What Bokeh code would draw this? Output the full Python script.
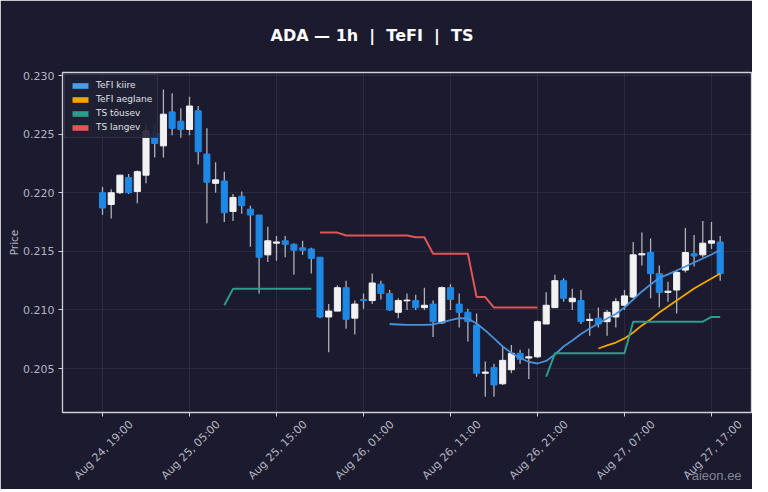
import numpy as np
import pandas as pd
from math import pi
from bokeh.plotting import figure
from bokeh.models import (ColumnDataSource, Range1d, FixedTicker, CustomJSTickFormatter,
                          NumeralTickFormatter, Legend, LegendItem, DatetimeAxis)
from bokeh.embed import file_html
from bokeh.resources import INLINE

nan = float("nan")

# hourly candles, Aug 24 19:00 -> Aug 27 18:00
times = pd.date_range("2023-08-24 19:00", periods=72, freq="h")

opens = [0.2200, 0.2190, 0.2200, 0.2213, 0.2201, 0.2215, 0.2251, 0.2240, 0.2269, 0.2261,
         0.2254, 0.2270, 0.2233, 0.2208, 0.2210, 0.2184, 0.2197, 0.2186, 0.2181, 0.2147,
         0.2157, 0.2159, 0.2156, 0.2153, 0.2152, 0.2145, 0.2094, 0.2099, 0.2119, 0.2093,
         0.2109, 0.2108, 0.2122, 0.2114, 0.2098, 0.21078, 0.2108, 0.2102, 0.2105, 0.2089,
         0.2119, 0.2105, 0.2098, 0.2087, 0.2046, 0.2051, 0.2037, 0.2049, 0.2063, 0.2059,
         0.2060, 0.2088, 0.2102, 0.2125, 0.2107, 0.2108, 0.2091, 0.2093, 0.2090, 0.2094,
         0.2104, 0.2111, 0.2147, 0.2149, 0.2131, 0.2115, 0.2117, 0.2134, 0.2148, 0.2147,
         0.2157, 0.2158]
highs = [0.2205, 0.2203, 0.2215, 0.2216, 0.2219, 0.2258, 0.2258, 0.2288, 0.2285, 0.2272,
         0.2282, 0.2274, 0.2255, 0.2226, 0.2218, 0.2199, 0.2201, 0.2189, 0.2181, 0.2171,
         0.2163, 0.2163, 0.2157, 0.2159, 0.2153, 0.2145, 0.2105, 0.2121, 0.2125, 0.2108,
         0.2114, 0.2131, 0.2125, 0.2117, 0.2110, 0.2114, 0.2113, 0.2119, 0.2108, 0.2120,
         0.2122, 0.2114, 0.2101, 0.2097, 0.2056, 0.2054, 0.2069, 0.2070, 0.2066, 0.2067,
         0.2091, 0.2115, 0.2130, 0.2127, 0.2118, 0.2117, 0.2097, 0.2102, 0.2100, 0.2110,
         0.2117, 0.2158, 0.2166, 0.2161, 0.2138, 0.2124, 0.2134, 0.2170, 0.2164, 0.2176,
         0.2175, 0.2163]
lows = [0.2181, 0.2178, 0.2199, 0.2199, 0.2191, 0.2208, 0.2230, 0.2230, 0.2249, 0.2247,
        0.2249, 0.2224, 0.2174, 0.2200, 0.2175, 0.2176, 0.2182, 0.2154, 0.2114, 0.2141,
        0.2142, 0.2145, 0.2130, 0.2147, 0.2131, 0.2093, 0.2064, 0.2099, 0.2084, 0.2079,
        0.2101, 0.2105, 0.2109, 0.2099, 0.2093, 0.2100, 0.2100, 0.2100, 0.2077, 0.2088,
        0.2100, 0.2085, 0.2073, 0.2043, 0.2026, 0.2026, 0.2036, 0.2046, 0.2054, 0.2041,
        0.2059, 0.2088, 0.2102, 0.2107, 0.2100, 0.2088, 0.2078, 0.2085, 0.2078, 0.2085,
        0.2100, 0.2110, 0.2138, 0.2110, 0.2102, 0.2107, 0.2097, 0.2132, 0.2137, 0.2145,
        0.2152, 0.2125]
closes = [0.2187, 0.2200, 0.2215, 0.2200, 0.2218, 0.2253, 0.2242, 0.2267, 0.2255, 0.2254,
          0.2274, 0.2235, 0.2209, 0.2211, 0.2183, 0.2196, 0.2189, 0.2181, 0.2145, 0.2159,
          0.2158, 0.2156, 0.2151, 0.2151, 0.2144, 0.2094, 0.2099, 0.2119, 0.2092, 0.2105,
          0.2108, 0.2123, 0.2114, 0.2100, 0.2108, 0.21084, 0.2102, 0.2104, 0.2090, 0.2119,
          0.2109, 0.2098, 0.2090, 0.2046, 0.2047, 0.2036, 0.2057, 0.2063, 0.2058, 0.2060,
          0.2090, 0.2104, 0.2125, 0.2110, 0.2110, 0.2090, 0.2092, 0.2088, 0.2098, 0.2107,
          0.2112, 0.2147, 0.2148, 0.2131, 0.2115, 0.2116, 0.2132, 0.2149, 0.2146, 0.2157,
          0.2159, 0.2131]

# TeFI kiire (from candle 33), TeFI aeglane (from candle 57)
tefi_fast = [nan] * 33 + [
    0.20880, 0.20876, 0.20872, 0.20872, 0.20872, 0.20876, 0.20893, 0.20914, 0.20931, 0.20927,
    0.20885, 0.20825, 0.20757, 0.20688, 0.20633, 0.20590, 0.20556, 0.20543, 0.20565, 0.20620,
    0.20688, 0.20740, 0.20795, 0.20842, 0.20885, 0.20927, 0.20966, 0.21021, 0.21089, 0.21158,
    0.21217, 0.21273, 0.21303, 0.21337, 0.21371, 0.21405, 0.21439, 0.21473, 0.21511]
tefi_slow = [nan] * 57 + [
    0.20671, 0.20697, 0.20722, 0.20757, 0.20808, 0.20868, 0.20919, 0.20978, 0.21030, 0.21081,
    0.21132, 0.21183, 0.21226, 0.21268, 0.21311]

# TS support (rising) and resistance (falling)
ts_up = ([nan] * 14 + [0.2104] + [0.2118] * 10 + [nan] * 26 + [0.2043] + [0.2063] * 9
         + [0.2090] * 9 + [0.2094] * 2)
ts_down = ([nan] * 25 + [0.2166] * 3 + [0.21635] * 8 + [0.2162] * 2 + [0.2148] * 5
           + [0.2111] * 2 + [0.2102] * 6 + [nan] * 21)

tick_times = times[::10]
tick_labels = ["Aug 24, 19:00", "Aug 25, 05:00", "Aug 25, 15:00", "Aug 26, 01:00",
               "Aug 26, 11:00", "Aug 26, 21:00", "Aug 27, 07:00", "Aug 27, 17:00"]
y_ticks = [0.205, 0.210, 0.215, 0.220, 0.225, 0.230]

BG = "#1b1a2e"
UP = "#f2f2f2"
DOWN = "#1e88e5"
TXT = "#b4b4c2"
FONT = "DejaVu Sans"

o = np.array(opens)
c = np.array(closes)
src = ColumnDataSource(dict(
    time=times, high=highs, low=lows,
    top=np.maximum(o, c), bottom=np.minimum(o, c),
    color=[UP if cc >= oo else DOWN for oo, cc in zip(o, c)],
))
lines = ColumnDataSource(dict(time=times, fast=tefi_fast, slow=tefi_slow, up=ts_up, down=ts_down))

hour = pd.Timedelta(hours=1)
y_lo, y_hi = 0.20125, 0.23026
p = figure(frame_width=689, frame_height=340, x_axis_type="datetime",
           x_range=Range1d(times[0] - 4.6 * hour, times[0] + 74.6 * hour),
           y_range=Range1d(y_lo, y_hi),
           output_backend="svg", toolbar_location=None,
           min_border_left=62, min_border_right=1, min_border_top=72, min_border_bottom=76,
           background_fill_color=BG, border_fill_color=BG,
           outline_line_color="#d0d0da", outline_line_width=1.3)

p.title.text = "ADA\u00a0—\u00a01h\u00a0\u00a0|\u00a0\u00a0TeFI\u00a0\u00a0|\u00a0\u00a0TS"
p.title.align = "left"
p.title.offset = 208
p.title.vertical_align = "top"
p.title.standoff = 51
p.title.text_color = "#ffffff"
p.title.text_font = FONT
p.title.text_font_size = "16px"
p.title.text_font_style = "bold"

p.segment(x0="time", y0="high", x1="time", y1="low", source=src, line_color="#b0b0b8", line_width=1.3)
p.vbar(x="time", width=0.7 * 3600 * 1000, top="top", bottom="bottom", source=src,
       fill_color="color", line_color="color")

p.line("time", "fast", source=lines, line_color="#4a90d9", line_width=1.8)
p.line("time", "slow", source=lines, line_color="#f0a500", line_width=1.8)
p.line("time", "up", source=lines, line_color="#2a9d8f", line_width=2)
p.line("time", "down", source=lines, line_color="#e05555", line_width=2)

# legend swatches as filled patches (zero-area quads on the line data)
sw = []
for col, key in [("#4a9de8", "fast"), ("#f0a500", "slow"), ("#2a9d8f", "up"), ("#e05555", "down")]:
    sw.append(p.quad(left="time", right="time", top=key, bottom=key, source=lines,
                     fill_color=col, line_color=None))
legend = Legend(items=[LegendItem(label="TeFI kiire", renderers=[sw[0]]),
                       LegendItem(label="TeFI aeglane", renderers=[sw[1]]),
                       LegendItem(label="TS tõusev", renderers=[sw[2]]),
                       LegendItem(label="TS langev", renderers=[sw[3]])],
                location=(2, 274), padding=5, spacing=4,
                glyph_width=20, glyph_height=7, label_height=10, label_standoff=6,
                label_text_font=FONT, label_text_font_size="9px", label_text_color="#e0e0e8",
                background_fill_color="#202034", background_fill_alpha=0.9,
                border_line_color="#44445a", border_line_width=1)
p.add_layout(legend)

# rotated labels end at their tick, so the labelled ticks sit a bit to the right
# and the visible tick marks are drawn as minor ticks at the real times
tick_ms = list(tick_times.asi8 // 10**6)
shift_ms = int(3.3 * 3600 * 1000)
p.xaxis.ticker = FixedTicker(ticks=[t + shift_ms for t in tick_ms], minor_ticks=tick_ms)
p.xaxis.formatter = CustomJSTickFormatter(args=dict(labels=tick_labels), code="return labels[index]")
p.xaxis.major_label_orientation = pi / 4
p.xaxis.major_tick_line_color = None
p.xaxis.minor_tick_line_color = "#d0d0da"
p.xaxis.minor_tick_out = 4
p.xaxis.minor_tick_in = 0
p.xgrid.ticker = FixedTicker(ticks=tick_ms)

p.yaxis.ticker = FixedTicker(ticks=y_ticks)
p.yaxis.formatter = NumeralTickFormatter(format="0.000")
p.yaxis.axis_label = "Price"
p.yaxis.axis_label_standoff = 0
p.yaxis.major_tick_line_color = "#d0d0da"
p.yaxis.minor_tick_line_color = None

for ax in (p.xaxis, p.yaxis):
    ax.axis_line_color = None
    ax.major_tick_out = 4
    ax.major_tick_in = 0
    ax.major_label_text_color = TXT
    ax.major_label_text_font = FONT
    ax.major_label_text_font_size = "11px"
    ax.major_label_standoff = 4
    ax.axis_label_text_color = TXT
    ax.axis_label_text_font = FONT
    ax.axis_label_text_font_size = "10.5px"
    ax.axis_label_text_font_style = "normal"
p.xaxis.major_label_standoff = 6

p.grid.grid_line_color = "#ffffff"
p.grid.grid_line_alpha = 0.07

# watermark: a one-tick axis stacked under the date axis, pulled back up over its labels
wm_ms = int((times[0] + 73.1 * hour).value // 10**6)
wm = DatetimeAxis(ticker=FixedTicker(ticks=[wm_ms], minor_ticks=[]),
                  formatter=CustomJSTickFormatter(code="return 'aieon.ee'"),
                  axis_line_color=None, major_tick_line_color=None,
                  minor_tick_line_color=None, major_tick_out=0, major_tick_in=0,
                  minor_tick_out=0, minor_tick_in=0,
                  major_label_text_font="Liberation Sans", major_label_text_font_size="13px",
                  major_label_text_color="#9a9aaa", major_label_text_alpha=0.85)
try:
    wm.major_label_standoff = -22
except ValueError:
    wm.major_label_standoff = 0
p.add_layout(wm, "below")

open("out.html", "w").write(file_html(p, INLINE))
